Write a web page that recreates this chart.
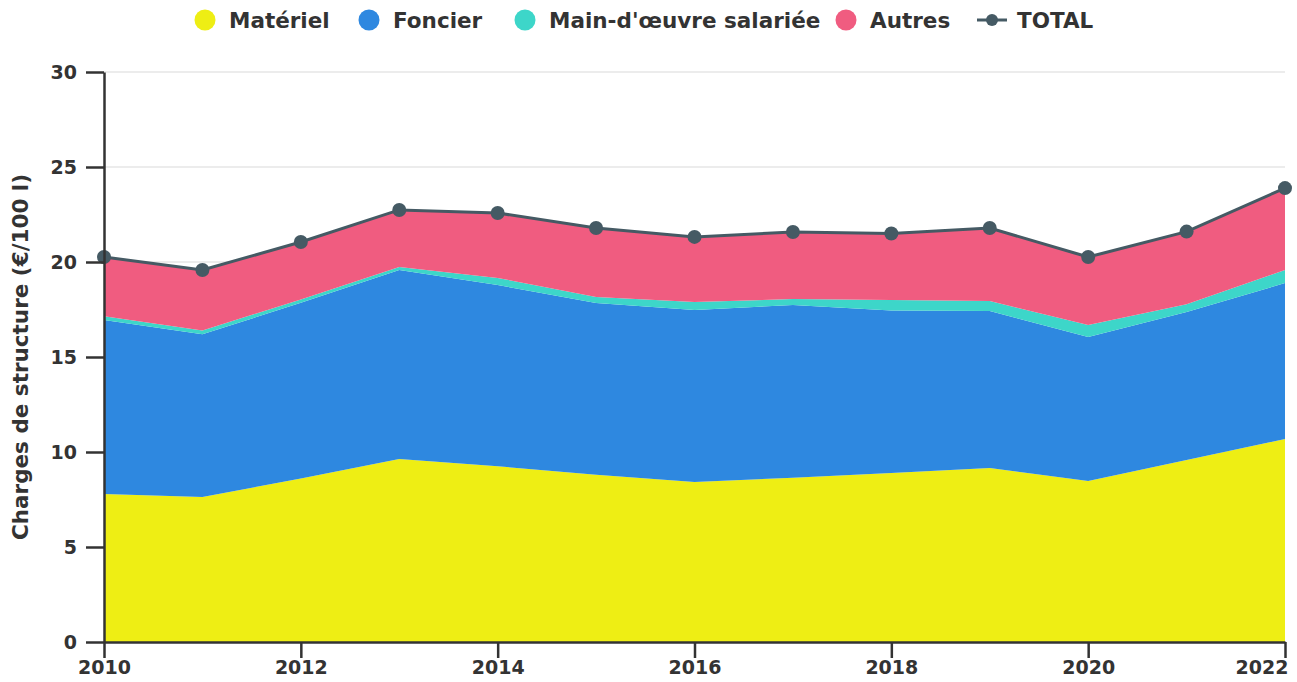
<!DOCTYPE html>
<meta charset="utf-8" />
<style>
  body {
    margin: 0;
    background: #fff;
  }
  text {
    font-family: "DejaVu Sans", sans-serif;
    font-weight: bold;
    fill: #333;
  }
  .tick text {
    font-size: 19px;
  }
  .legend text {
    font-size: 21.5px;
  }
</style>
<body>
  <script src="https://d3js.org/d3.v7.min.js"></script>
  <script>
    // values (€/100 l)
    var years = [2010, 2011, 2012, 2013, 2014, 2015, 2016, 2017, 2018, 2019, 2020, 2021, 2022];
    var materiel = [7.79, 7.63, 8.6, 9.63, 9.25, 8.8, 8.42, 8.65, 8.9, 9.16, 8.47, 9.58, 10.68];
    var foncier = [9.16, 8.57, 9.25, 9.95, 9.54, 9.04, 9.05, 9.09, 8.55, 8.26, 7.58, 7.79, 8.21];
    var mainOeuvre = [0.2, 0.2, 0.18, 0.16, 0.37, 0.32, 0.42, 0.31, 0.55, 0.53, 0.63, 0.4, 0.69];
    var autres = [3.1, 3.18, 3.02, 3.0, 3.42, 3.63, 3.43, 3.53, 3.5, 3.84, 3.58, 3.83, 4.31];
    var total = [20.26, 19.58, 21.05, 22.74, 22.58, 21.79, 21.32, 21.58, 21.5, 21.79, 20.26, 21.6, 23.89];
    var yTicks = [0, 5, 10, 15, 20, 25, 30];
    var xTicks = [2010, 2012, 2014, 2016, 2018, 2020, 2022];

    var seriesNames = ["Matériel", "Foncier", "Main-d'œuvre salariée", "Autres"];
    var seriesKeys = ["materiel", "foncier", "mainOeuvre", "autres"];
    var colors = ["#eeee14", "#2e88e0", "#3dd6c9", "#f05c80"];
    var totalColor = "#455a64";

    var width = 1297,
      height = 682;
    var margin = { top: 72, right: 12, bottom: 40, left: 104 };

    var svg = d3
      .select("body")
      .append("svg")
      .attr("width", width)
      .attr("height", height);

    var x = d3
      .scaleLinear()
      .domain([2010, 2022])
      .range([margin.left, width - margin.right]);
    var y = d3
      .scaleLinear()
      .domain([0, 30])
      .range([height - margin.bottom, margin.top]);

    // rows for the stack
    var rows = years.map(function(yr, i) {
      return {
        year: yr,
        materiel: materiel[i],
        foncier: foncier[i],
        mainOeuvre: mainOeuvre[i],
        autres: autres[i]
      };
    });
    var stacked = d3.stack().keys(seriesKeys)(rows);

    //grid lines
    svg
      .append("g")
      .selectAll("line")
      .data(yTicks.slice(1))
      .enter()
      .append("line")
      .attr("x1", x(2010))
      .attr("x2", x(2022))
      .attr("y1", d => y(d))
      .attr("y2", d => y(d))
      .style("stroke", "#e6e6e6")
      .style("stroke-width", 1.5);

    var area = d3
      .area()
      .x(d => x(d.data.year))
      .y0(d => y(d[0]))
      .y1(d => y(d[1]));

    svg
      .append("g")
      .selectAll("path")
      .data(stacked)
      .enter()
      .append("path")
      .attr("d", area)
      .style("fill", (d, i) => colors[i]);

    // total line + dots
    var line = d3
      .line()
      .x((d, i) => x(years[i]))
      .y(d => y(d));
    svg
      .append("path")
      .datum(total)
      .attr("d", line)
      .style("fill", "none")
      .style("stroke", totalColor)
      .style("stroke-width", 3);
    svg
      .append("g")
      .selectAll("circle")
      .data(total)
      .enter()
      .append("circle")
      .attr("cx", (d, i) => x(years[i]))
      .attr("cy", d => y(d))
      .attr("r", 7)
      .style("fill", totalColor);

    //axes
    var yAxis = svg
      .append("g")
      .attr("transform", "translate(" + margin.left + ",0)")
      .call(
        d3
          .axisLeft(y)
          .tickValues(yTicks)
          .tickSize(18)
          .tickSizeOuter(0)
          .tickPadding(9)
      );
    var xAxis = svg
      .append("g")
      .attr("transform", "translate(0," + (height - margin.bottom) + ")")
      .call(
        d3
          .axisBottom(x)
          .tickValues(xTicks)
          .tickFormat(d3.format("d"))
          .tickSize(16)
          .tickSizeOuter(0)
          .tickPadding(3)
      );
    // keep the last year label inside the frame
    xAxis
      .selectAll(".tick text")
      .filter(d => d === 2022)
      .attr("text-anchor", "end")
      .attr("dx", 3);
    [yAxis, xAxis].forEach(function(a) {
      a.select(".domain").style("stroke", "#333").style("stroke-width", 2.5);
      a.selectAll(".tick line").style("stroke", "#333").style("stroke-width", 2.5);
      a.selectAll(".tick text").style("fill", "#333");
    });

    //y title
    svg
      .append("text")
      .attr("transform", "translate(28," + (margin.top + height - margin.bottom) / 2 + ") rotate(-90)")
      .attr("text-anchor", "middle")
      .style("font-size", "21.5px")
      .text("Charges de structure (€/100 l)");

    //legend
    var legendX = [205, 369, 525, 846];
    var legend = svg
      .selectAll(".legend")
      .data(seriesNames)
      .enter()
      .append("g")
      .attr("class", "legend")
      .attr("transform", (d, i) => "translate(" + legendX[i] + ",20)");
    legend
      .append("circle")
      .attr("r", 10.5)
      .style("fill", (d, i) => colors[i]);
    legend
      .append("text")
      .attr("x", 24)
      .attr("dy", "0.36em")
      .text(d => d);

    var totLeg = svg
      .append("g")
      .attr("class", "legend")
      .attr("transform", "translate(992,20)");
    totLeg
      .append("line")
      .attr("x1", -15)
      .attr("x2", 15)
      .style("stroke", totalColor)
      .style("stroke-width", 3);
    totLeg
      .append("circle")
      .attr("r", 6)
      .style("fill", totalColor);
    totLeg
      .append("text")
      .attr("x", 25)
      .attr("dy", "0.36em")
      .text("TOTAL");
  </script>
</body>
